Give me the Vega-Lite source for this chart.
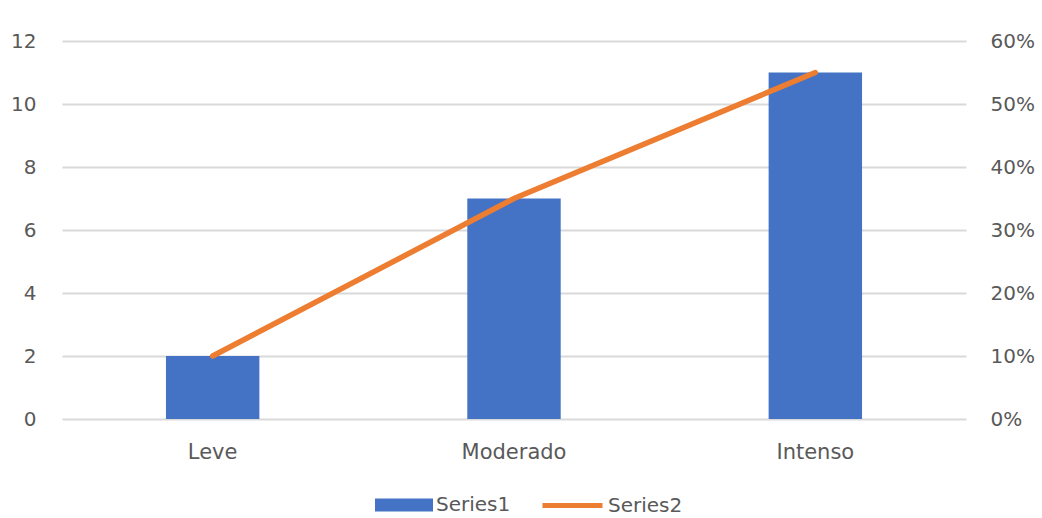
{
  "$schema": "https://vega.github.io/schema/vega-lite/v6.json",
  "width": 904,
  "height": 378,
  "autosize": {"type": "none"},
  "padding": {"left": 62, "top": 41, "right": 76, "bottom": 99},
  "background": "white",
  "config": {
    "view": {"stroke": null},
    "font": "DejaVu Sans",
    "axis": {"labelColor": "#595959", "labelFontSize": 20, "labelFont": "DejaVu Sans", "domain": false, "ticks": false, "title": null},
    "legend": {"labelColor": "#595959", "labelFontSize": 20, "labelFont": "DejaVu Sans", "padding": 0}
  },
  "data": {
    "values": [
      {"cat": "Leve", "count": 2, "pct": 0.10},
      {"cat": "Moderado", "count": 7, "pct": 0.35},
      {"cat": "Intenso", "count": 11, "pct": 0.55}
    ]
  },
  "encoding": {
    "x": {
      "field": "cat", "type": "nominal", "sort": null,
      "scale": {"paddingInner": 0.69, "paddingOuter": 0.345},
      "axis": {"labelAngle": 0, "labelPadding": 22, "labelFontSize": 21, "grid": false}
    }
  },
  "layer": [
    {
      "mark": {"type": "bar"},
      "encoding": {
        "y": {
          "field": "count", "type": "quantitative",
          "scale": {"domain": [0, 12], "nice": false},
          "axis": {"values": [0, 2, 4, 6, 8, 10, 12], "grid": true, "gridColor": "#D9D9D9", "gridWidth": 2, "labelPadding": 26}
        },
        "fill": {
          "datum": "Series1",
          "scale": {"domain": ["Series1"], "range": ["#4472C4"]},
          "legend": {"title": null, "orient": "none", "legendX": 313, "legendY": 435, "symbolType": "M-1,-0.22H1V0.22H-1Z", "symbolSize": 3364, "symbolStrokeWidth": 0, "labelOffset": 3}
        }
      }
    },
    {
      "mark": {"type": "line", "strokeWidth": 5.5, "strokeCap": "round"},
      "encoding": {
        "y": {
          "field": "pct", "type": "quantitative",
          "scale": {"domain": [0, 0.6], "nice": false},
          "axis": {"orient": "right", "format": ".0%", "values": [0, 0.1, 0.2, 0.3, 0.4, 0.5, 0.6], "grid": false, "labelPadding": 24}
        },
        "stroke": {
          "datum": "Series2",
          "scale": {"domain": ["Series2"], "range": ["#ED7D31"]},
          "legend": {"title": null, "orient": "none", "legendX": 478, "legendY": 432, "symbolType": "stroke", "symbolSize": 3600, "symbolStrokeWidth": 5, "labelOffset": 3}
        }
      }
    }
  ],
  "resolve": {"scale": {"y": "independent"}}
}
